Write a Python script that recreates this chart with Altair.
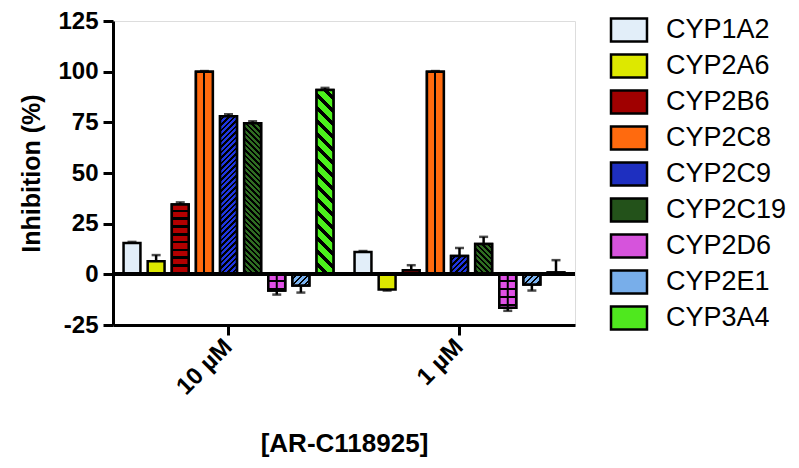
import altair as alt
import pandas as pd

cyps = ["CYP1A2", "CYP2A6", "CYP2B6", "CYP2C8", "CYP2C9", "CYP2C19", "CYP2D6", "CYP2E1", "CYP3A4"]
concs = ["10 µM", "1 µM"]
inh_10 = [15.5, 6.5, 34.5, 100, 78, 74.5, -8, -5.5, 91]
err_10 = [0.5, 3, 1, 0.3, 1, 1, 2, 3.5, 1]
inh_1 = [11, -7.5, 2, 100, 9, 15, -16.5, -5, 1]
err_1 = [0.5, 0.5, 2.5, 0.3, 4, 3.5, 1.5, 3, 6]
# legend / solid colours
colors = ["#e2eef9", "#dde800", "#a00000", "#ff6a0e", "#1e2fc0", "#23521a",
          "#d653dc", "#78aeea", "#4fe81e"]
y_ticks = [-25, 0, 25, 50, 75, 100, 125]

# hatch styles: (kind, base colour, period px, black fraction)
patterns = {
    "CYP2B6": ("h", "#b30000", 7.8, 0.33),
    "CYP2C8": ("v", "#ff6a0e", None, None),
    "CYP2C9": ("/", "#2036e0", 5.5, 0.42),
    "CYP2C19": ("\\", "#2f6d22", 5.5, 0.45),
    "CYP2D6": ("h", "#e050e6", 8.0, 0.25),
    "CYP2E1": ("/", "#7ab2f0", 6.0, 0.3),
    "CYP3A4": ("\\", "#4cf21c", 13.0, 0.36),
}

W, H = 462, 304
PX = H / 150.0
step = W / (2 - 0.06 + 0.06)
BAR_W = step * 0.94 / 9 * 0.7

rows = []
for conc, vals, errs in [(concs[0], inh_10, err_10), (concs[1], inh_1, err_1)]:
    for c, v, e in zip(cyps, vals, errs):
        rows.append({"conc": conc, "cyp": c, "inh": v,
                     "err_end": v + (e if v >= 0 else -e)})
df = pd.DataFrame(rows)

FONT = "Liberation Sans"
BLACK = "#000000"


def stripe_stops(base, dt, frac, tmax):
    stops = []
    k = 0
    while k * dt <= min(tmax, 1.0) + dt:
        a = min(k * dt, 1.0)
        b = min((k + 1 - frac) * dt, 1.0)
        c = min((k + 1) * dt, 1.0)
        stops += [{"offset": a, "color": base}, {"offset": b, "color": base},
                  {"offset": b, "color": BLACK}, {"offset": c, "color": BLACK}]
        if c >= 1.0:
            break
        k += 1
    return stops


def gradient_for(cyp, value):
    kind, base, period, frac = patterns[cyp]
    h = max(abs(value) * PX, 1.0)
    w = BAR_W
    if kind == "v":
        return {"gradient": "linear", "x1": 0, "y1": 0, "x2": 1, "y2": 0,
                "stops": [{"offset": 0, "color": base}, {"offset": 0.44, "color": base},
                          {"offset": 0.44, "color": BLACK}, {"offset": 0.56, "color": BLACK},
                          {"offset": 0.56, "color": base}, {"offset": 1, "color": base}]}
    if kind == "h":
        dt = period / h
        return {"gradient": "linear", "x1": 0, "y1": 0, "x2": 0, "y2": 1,
                "stops": stripe_stops(base, dt, frac, 1.0)}
    r = h / w
    dt = period / (w * (1 + r * r))
    tmax = (w + h) / (w * (1 + r * r))
    if kind == "/":
        g = {"x1": 0, "y1": 0, "x2": 1, "y2": r}
    else:
        g = {"x1": 0, "y1": 1, "x2": 1, "y2": 1 - r}
    g.update({"gradient": "linear", "stops": stripe_stops(base, dt, frac, tmax)})
    return g


x_scale = alt.Scale(domain=concs, paddingInner=0.06, paddingOuter=0.03)
xo_scale = alt.Scale(domain=cyps, paddingInner=0.3, paddingOuter=0.15)
y_scale = alt.Scale(domain=[-25, 125], nice=False, zero=False)

x_enc = alt.X("conc:N", sort=concs, scale=x_scale,
              axis=alt.Axis(title="[AR-C118925]", labelAngle=-45, labelAlign="right",
                            labelBaseline="middle", labelFontSize=24, labelFontWeight="bold",
                            labelFont=FONT, labelPadding=8, titleFontSize=26,
                            titleFontWeight="bold", titleFont=FONT, titlePadding=32,
                            domainWidth=3, domainColor="black", tickWidth=3,
                            tickColor="black", tickSize=10, labelColor="black",
                            titleColor="black"))
xo_enc = alt.XOffset("cyp:N", sort=cyps, scale=xo_scale)

bars = alt.Chart(df).mark_bar(stroke="black", strokeWidth=2.5).encode(
    x=x_enc,
    xOffset=xo_enc,
    y=alt.Y("inh:Q", scale=y_scale,
            axis=alt.Axis(title="Inhibition (%)", values=y_ticks, grid=False,
                          labelExpr="datum.value < 0 ? '-' + abs(datum.value) : '' + datum.value",
                          labelFontSize=24, labelFontWeight="bold", labelFont=FONT,
                          titleFontSize=25, titleFontWeight="bold", titleFont=FONT,
                          titlePadding=13, domainWidth=3, domainColor="black",
                          tickWidth=3, tickColor="black", tickSize=10,
                          labelColor="black", titleColor="black", labelPadding=5)),
    fill=alt.Fill("cyp:N", sort=cyps, scale=alt.Scale(domain=cyps, range=colors),
                  legend=alt.Legend(title=None, orient="none", legendX=497, legendY=-10,
                                    symbolType="M-1.04,-0.665H1.04V0.665H-1.04Z",
                                    symbolSize=1197,
                                    symbolStrokeColor="black", symbolStrokeWidth=2.5,
                                    labelFontSize=27, labelFont=FONT, labelColor="black",
                                    labelOffset=18, rowPadding=0, symbolOpacity=1)),
)

layers = [bars]
for conc, vals in [(concs[0], inh_10), (concs[1], inh_1)]:
    for c, v in zip(cyps, vals):
        if c not in patterns or abs(v) < 2.5:
            continue
        layers.append(
            alt.Chart(df).transform_filter(
                (alt.datum.conc == conc) & (alt.datum.cyp == c)
            ).mark_bar(stroke="black", strokeWidth=2.5, fill=gradient_for(c, v)).encode(
                x=alt.X("conc:N", sort=concs, scale=x_scale),
                xOffset=xo_enc,
                y=alt.Y("inh:Q", scale=y_scale),
            )
        )

# centre line of the CYP2D6 grid
grid_line = alt.Chart(df).transform_filter(alt.datum.cyp == "CYP2D6").mark_rule(
    color="black", strokeWidth=2).encode(
    x=alt.X("conc:N", sort=concs, scale=x_scale), xOffset=xo_enc,
    y=alt.Y("inh:Q", scale=y_scale), y2=alt.datum(0))

err_rule = alt.Chart(df).mark_rule(color="black", strokeWidth=2.5).encode(
    x=alt.X("conc:N", sort=concs, scale=x_scale), xOffset=xo_enc,
    y=alt.Y("inh:Q", scale=y_scale), y2="err_end:Q")

err_cap = alt.Chart(df).mark_tick(color="black", thickness=2.5, size=9).encode(
    x=alt.X("conc:N", sort=concs, scale=x_scale), xOffset=xo_enc,
    y=alt.Y("err_end:Q", scale=y_scale))

zero = alt.Chart(df).mark_rule(color="black", strokeWidth=3).encode(y=alt.datum(0))

layers += [grid_line, err_rule, err_cap, zero]

chart = alt.layer(*layers).properties(
    width=W, height=H,
    autosize=alt.AutoSizeParams(type="none"),
    padding={"left": 105, "top": 13, "right": 214, "bottom": 134},
).configure_view(stroke=None).configure(font=FONT)

chart.save("out.html", embed_options={"renderer": "svg", "actions": False})
